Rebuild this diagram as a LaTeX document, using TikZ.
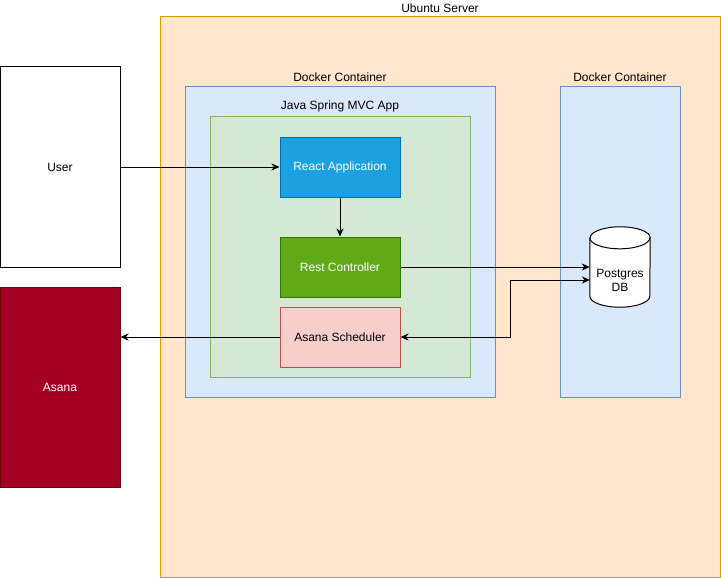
\documentclass[tikz,border=0pt]{standalone}
\usepackage{fontspec}
\setmainfont{Liberation Sans}
\usepackage{xcolor}
\usepackage{tikz}
\usetikzlibrary{arrows.meta}
\definecolor{serverorange}{RGB}{255,230,204}
\definecolor{serverline}{RGB}{215,155,0}
\definecolor{dockerblue}{RGB}{218,232,252}
\definecolor{dockerline}{RGB}{108,142,191}
\definecolor{springgreen}{RGB}{213,232,212}
\definecolor{springline}{RGB}{130,179,102}
\definecolor{reactblue}{RGB}{27,161,226}
\definecolor{reactline}{RGB}{0,110,175}
\definecolor{restgreen}{RGB}{96,169,23}
\definecolor{restline}{RGB}{45,118,0}
\definecolor{schedpink}{RGB}{248,206,204}
\definecolor{schedline}{RGB}{184,84,80}
\definecolor{asanared}{RGB}{162,0,37}
\definecolor{asanaline}{RGB}{111,0,0}

\begin{document}
\begin{tikzpicture}[x=1pt, y=-1pt, every node/.style={text centered, inner sep=0pt, font=\fontsize{12}{14}\selectfont}, box/.style={draw, line width=1pt}, link/.style={-{Stealth[length=8pt,width=7pt,inset=2.5pt]}, line width=1pt}]
        \useasboundingbox (0,0) rectangle (721,578);
        \node[box, fill=serverorange, draw=serverline, minimum width=560pt, minimum height=560pt] (server) at (440,297) {};
        \node (servertitle) at (440,8) {Ubuntu Server};
        \node[box, fill=white, minimum width=120pt, minimum height=200pt] (user) at (60,167) {User};
        \node[box, fill=asanared, draw=asanaline, text=white, minimum width=120pt, minimum height=200pt] (asana) at (60,387) {Asana};
        \node[box, fill=dockerblue, draw=dockerline, minimum width=310pt, minimum height=310pt] (appdocker) at (340,242) {};
        \node (appdockertitle) at (340,77) {Docker Container};
        \node[box, fill=springgreen, draw=springline, minimum width=260pt, minimum height=260pt] (spring) at (340,247) {};
        \node (springtitle) at (340,106) {Java Spring MVC App};
        \node[box, fill=reactblue, draw=reactline, text=white, minimum width=120pt, minimum height=60pt] (react) at (340,167) {React Application};
        \node[box, fill=restgreen, draw=restline, text=white, minimum width=120pt, minimum height=60pt] (rest) at (340,267) {Rest Controller};
        \node[box, fill=schedpink, draw=schedline, minimum width=120pt, minimum height=60pt] (sched) at (340,337) {Asana Scheduler};
        \node[box, fill=dockerblue, draw=dockerline, minimum width=120pt, minimum height=310pt] (dbdocker) at (620,242) {};
        \node (dbdockertitle) at (620,77) {Docker Container};
        \node[minimum width=60pt, minimum height=80pt] (postgres) at (620,267) {};
        \draw[box, fill=white] ([yshift=-11pt]postgres.north west) -- ([yshift=11pt]postgres.south west) arc[start angle=180, end angle=0, x radius=30, y radius=11] -- ([yshift=-11pt]postgres.north east) arc[start angle=0, end angle=-180, x radius=30, y radius=11] -- cycle;
        \draw[box] ([yshift=-11pt]postgres.north west) arc[start angle=180, end angle=0, x radius=30, y radius=11];
        \node[align=center] (postgrestext) at (620,280) {Postgres\\DB};
        \coordinate (dbport) at (590,280);

        \draw[link] (user) -- (react);
        \draw[link] (react) -- (rest);
        \draw[link] (rest.east) -- (rest.east -| postgres.west);
        \draw[link, {Stealth[length=8pt,width=7pt,inset=2.5pt]}-{Stealth[length=8pt,width=7pt,inset=2.5pt]}] (sched.east) -- (510,337) |- (dbport);
        \draw[link] (sched.west) -- (sched.west -| asana.east);
    \end{tikzpicture}
\end{document}
